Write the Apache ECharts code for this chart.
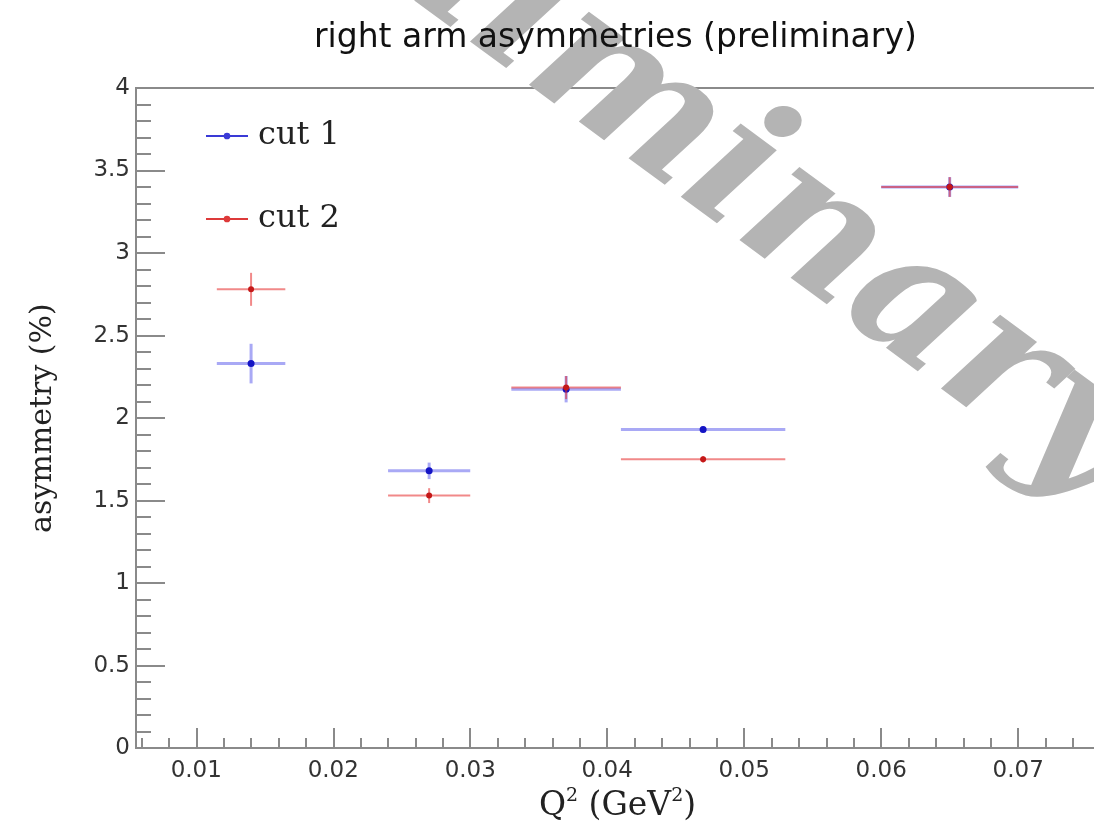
<!DOCTYPE html>
<html>
<head>
<meta charset="utf-8">
<script src="https://cdn.jsdelivr.net/npm/echarts@6/dist/echarts.min.js"></script>
<style>
  html, body { margin: 0; padding: 0; background: #ffffff; overflow: hidden; width: 1094px; height: 830px; }
  #chart { width: 1110px; height: 830px; }
</style>
</head>
<body>
<div id="chart"></div>
<script>
// ---- data ----
const binCenters = [0.014, 0.027, 0.037, 0.047, 0.065];
const binLow     = [0.0115, 0.024, 0.033, 0.041, 0.060];
const binHigh    = [0.0165, 0.030, 0.041, 0.053, 0.070];

const cut1Values = [2.33, 1.68, 2.175, 1.93, 3.40];
const cut1Errors = [0.12, 0.05, 0.08, 0.02, 0.06];

const cut2Values = [2.78, 1.53, 2.185, 1.75, 3.40];
const cut2Errors = [0.10, 0.045, 0.07, 0.02, 0.06];

const seriesNames = ['cut 1', 'cut 2'];
const titleText = 'right arm asymmetries (preliminary)';
const yAxisTitle = 'asymmetry (%)';
const xAxisTitle = 'Q{s|2} (GeV{s|2})';
const watermarkText = 'Preliminary';

// ---- build rows ----
function rows(values, errors) {
  return binCenters.map((c, i) => [c, values[i], binLow[i], binHigh[i], errors[i]]);
}

function makeRenderItem(lineColor, dotColor, lw, r) {
  return function (params, api) {
    const xc = api.value(0), y = api.value(1), xl = api.value(2), xh = api.value(3), e = api.value(4);
    const pC = api.coord([xc, y]);
    const pL = api.coord([xl, y]);
    const pH = api.coord([xh, y]);
    const pT = api.coord([xc, y + e]);
    const pB = api.coord([xc, y - e]);
    return {
      type: 'group',
      children: [
        { type: 'line', shape: { x1: pL[0], y1: pL[1], x2: pH[0], y2: pH[1] }, style: { stroke: lineColor, lineWidth: lw } },
        { type: 'line', shape: { x1: pT[0], y1: pT[1], x2: pB[0], y2: pB[1] }, style: { stroke: lineColor, lineWidth: lw } },
        { type: 'circle', shape: { cx: pC[0], cy: pC[1], r: r }, style: { fill: dotColor } }
      ]
    };
  };
}

const axisGray = '#8a8a8a';
const legendIcon = 'path://M0,9L44,9L44,11L0,11Z M18.5,10A3.5,3.5 0 1,1 25.5,10A3.5,3.5 0 1,1 18.5,10Z';

const chart = echarts.init(document.getElementById('chart'), null, { renderer: 'canvas', width: 1110, height: 830 });

const option = {
  backgroundColor: '#ffffff',
  animation: false,
  title: {
    text: titleText,
    left: 314,
    top: 18,
    padding: 0,
    textStyle: { fontFamily: 'DejaVu Sans', fontSize: 33, fontWeight: 'normal', color: '#111', lineHeight: 40 }
  },
  graphic: [
    {
      type: 'text',
      x: 640,
      y: 108,
      rotation: -0.635,
      z: 1,
      silent: true,
      style: {
        text: watermarkText,
        font: 'italic bold 182px "DejaVu Serif"',
        fill: '#b4b4b4',
        align: 'center',
        verticalAlign: 'middle'
      }
    }
  ],
  legend: {
    orient: 'vertical',
    left: 206,
    top: 118,
    padding: 0,
    itemGap: 47,
    itemWidth: 42,
    itemHeight: 8,
    icon: legendIcon,
    data: seriesNames,
    textStyle: { fontFamily: 'DejaVu Serif', fontSize: 32, color: '#222', lineHeight: 36, padding: [0, 0, 0, 5] }
  },
  grid: {
    left: 136,
    top: 88,
    right: 11,
    bottom: 74,
    show: true,
    borderColor: axisGray,
    borderWidth: 2,
    backgroundColor: 'transparent',
    containLabel: false
  },
  xAxis: {
    type: 'value',
    min: 0.0056,
    max: 0.0759,
    splitNumber: 7,
    name: xAxisTitle,
    nameLocation: 'middle',
    nameGap: 31,
    nameTextStyle: {
      fontFamily: 'DejaVu Serif', fontSize: 33, color: '#222', lineHeight: 38,
      rich: { s: { fontFamily: 'DejaVu Serif', fontSize: 19, color: '#222', verticalAlign: 'top', lineHeight: 20 } }
    },
    axisLine: { show: true, onZero: false, lineStyle: { color: axisGray, width: 2 } },
    axisTick: { show: true, inside: true, length: 20, lineStyle: { color: axisGray, width: 2 } },
    minorTick: { show: true, splitNumber: 5, length: 10, lineStyle: { color: axisGray, width: 2 } },
    splitLine: { show: false },
    axisLabel: {
      showMinLabel: false, showMaxLabel: false,
      margin: 11, fontFamily: 'DejaVu Sans', fontSize: 23, color: '#333'
    }
  },
  yAxis: {
    type: 'value',
    min: 0,
    max: 4,
    interval: 0.5,
    name: yAxisTitle,
    nameLocation: 'middle',
    nameGap: 78,
    nameTextStyle: { fontFamily: 'DejaVu Serif', fontSize: 30, color: '#222' },
    axisLine: { show: true, onZero: false, lineStyle: { color: axisGray, width: 2 } },
    axisTick: { show: true, inside: true, length: 29, lineStyle: { color: axisGray, width: 2 } },
    minorTick: { show: true, splitNumber: 5, length: 15, lineStyle: { color: axisGray, width: 2 } },
    splitLine: { show: false },
    axisLabel: { margin: 6, fontFamily: 'DejaVu Sans', fontSize: 23, color: '#333' }
  },
  series: [
    {
      name: seriesNames[0],
      type: 'custom',
      z: 3,
      itemStyle: { color: '#3a3ad6' },
      renderItem: makeRenderItem('rgba(50,50,230,0.42)', '#1414c4', 3, 3.5),
      encode: { x: [0, 2, 3], y: [1] },
      data: rows(cut1Values, cut1Errors)
    },
    {
      name: seriesNames[1],
      type: 'custom',
      z: 4,
      itemStyle: { color: '#dd3a3a' },
      renderItem: makeRenderItem('rgba(230,40,40,0.55)', '#c41818', 2, 3),
      encode: { x: [0, 2, 3], y: [1] },
      data: rows(cut2Values, cut2Errors)
    }
  ]
};

chart.setOption(option);
</script>
</body>
</html>
